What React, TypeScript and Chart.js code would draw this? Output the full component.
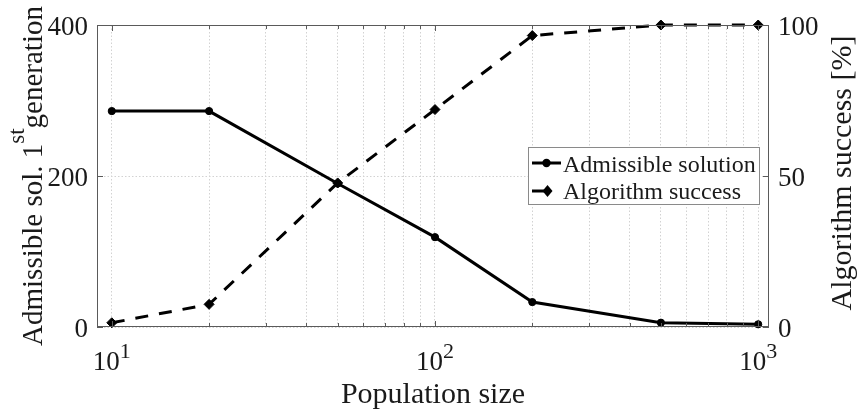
import { useEffect, useRef } from 'react';
import { Chart, registerables } from 'chart.js';

Chart.register(...registerables);

const populationSizes = [10, 20, 50, 100, 200, 500, 1000];
const admissibleSolutions = [286, 286, 190, 119, 33, 5.7, 3.6];
const algorithmSuccess = [1.4, 7.5, 47.7, 72, 96.5, 100, 100];
const xMajorTicks = [10, 100, 1000];
const xMinorTicks = [20, 30, 40, 50, 60, 70, 80, 90, 200, 300, 400, 500, 600, 700, 800, 900];
const xTickBase = '10';
const xTickExponents = ['1', '2', '3'];
const leftTicks = [0, 200, 400];
const rightTicks = [0, 50, 100];
const seriesLabels = ['Admissible solution', 'Algorithm success'];
const xTitle = 'Population size';
const leftTitleParts = ['Admissible sol. 1', 'st', 'generation'];
const rightTitle = 'Algorithm success [%]';

const SERIF = '"Liberation Serif", "Times New Roman", serif';
const TEXT = '#1a1a1a';
const AXIS = '#5a5a5a';
const GRID = '#d2d2d2';

const drawDiamond = (ctx: CanvasRenderingContext2D, cx: number, cy: number, hw: number, hh: number) => {
  ctx.beginPath();
  ctx.moveTo(cx - hw, cy);
  ctx.lineTo(cx, cy - hh);
  ctx.lineTo(cx + hw, cy);
  ctx.lineTo(cx, cy + hh);
  ctx.closePath();
  ctx.fill();
};

const decorPlugin = {
  id: 'decor',
  afterDraw(chart: any) {
    const { ctx, chartArea: a, scales } = chart;
    const sx = scales.x;
    const sy = scales.y;
    const sy1 = scales.y1;
    ctx.save();

    // box
    ctx.strokeStyle = AXIS;
    ctx.lineWidth = 1;
    ctx.setLineDash([]);
    ctx.strokeRect(a.left + 0.5, a.top + 0.5, a.right - a.left - 1, a.bottom - a.top - 1);

    // tick marks
    const tick = (x1: number, y1: number, x2: number, y2: number) => {
      ctx.beginPath();
      ctx.moveTo(x1, y1);
      ctx.lineTo(x2, y2);
      ctx.stroke();
    };
    xMajorTicks.forEach((v) => {
      const p = Math.round(sx.getPixelForValue(v)) + 0.5;
      tick(p, a.bottom, p, a.bottom - 6);
      tick(p, a.top, p, a.top + 6);
    });
    xMinorTicks.forEach((v) => {
      const p = Math.round(sx.getPixelForValue(v)) + 0.5;
      tick(p, a.bottom, p, a.bottom - 4);
      tick(p, a.top, p, a.top + 4);
    });
    leftTicks.forEach((v) => {
      const p = Math.round(sy.getPixelForValue(v)) + 0.5;
      tick(a.left, p, a.left + 6, p);
    });
    rightTicks.forEach((v) => {
      const p = Math.round(sy1.getPixelForValue(v)) + 0.5;
      tick(a.right, p, a.right - 6, p);
    });

    // tick labels
    ctx.fillStyle = TEXT;
    ctx.font = `27px ${SERIF}`;
    ctx.textBaseline = 'alphabetic';
    ctx.textAlign = 'right';
    leftTicks.forEach((v) => {
      ctx.fillText(String(v), a.left - 9, sy.getPixelForValue(v) + 10);
    });
    ctx.textAlign = 'left';
    rightTicks.forEach((v) => {
      ctx.fillText(String(v), a.right + 9, sy1.getPixelForValue(v) + 10);
    });
    xMajorTicks.forEach((v, i) => {
      ctx.font = `27px ${SERIF}`;
      const wb = ctx.measureText(xTickBase).width;
      ctx.font = `22px ${SERIF}`;
      const ws = ctx.measureText(xTickExponents[i]).width;
      const start = sx.getPixelForValue(v) - (wb + ws) / 2;
      ctx.font = `27px ${SERIF}`;
      ctx.fillText(xTickBase, start, a.bottom + 43);
      ctx.font = `22px ${SERIF}`;
      ctx.fillText(xTickExponents[i], start + wb, a.bottom + 31);
    });

    // x title
    ctx.font = `30px ${SERIF}`;
    ctx.textAlign = 'center';
    ctx.fillText(xTitle, (a.left + a.right) / 2, a.bottom + 76);

    // left title
    ctx.save();
    ctx.translate(42, (a.top + a.bottom) / 2);
    ctx.rotate(-Math.PI / 2);
    ctx.textAlign = 'left';
    ctx.font = `29px ${SERIF}`;
    const w0 = ctx.measureText(leftTitleParts[0]).width;
    const w2 = ctx.measureText(leftTitleParts[2]).width;
    ctx.font = `23px ${SERIF}`;
    const w1 = ctx.measureText(leftTitleParts[1]).width;
    let cx = -(w0 + w1 + w2) / 2;
    ctx.font = `29px ${SERIF}`;
    ctx.fillText(leftTitleParts[0], cx, 0);
    cx += w0;
    ctx.font = `23px ${SERIF}`;
    ctx.fillText(leftTitleParts[1], cx, -18);
    cx += w1;
    ctx.font = `29px ${SERIF}`;
    ctx.fillText(leftTitleParts[2], cx, 0);
    ctx.restore();

    // right title
    ctx.save();
    ctx.translate(851, 173);
    ctx.rotate(-Math.PI / 2);
    ctx.textAlign = 'center';
    ctx.font = `30px ${SERIF}`;
    ctx.fillText(rightTitle, 0, 0);
    ctx.restore();

    // legend
    const lx = 528.5;
    const ly = 147.5;
    const lw = 231;
    const lh = 57;
    ctx.fillStyle = '#ffffff';
    ctx.fillRect(lx, ly, lw, lh);
    ctx.strokeStyle = '#8a8a8a';
    ctx.lineWidth = 1;
    ctx.strokeRect(lx, ly, lw, lh);

    ctx.strokeStyle = '#000';
    ctx.fillStyle = '#000';
    ctx.lineWidth = 3;
    ctx.beginPath();
    ctx.moveTo(532, 163);
    ctx.lineTo(561, 163);
    ctx.stroke();
    ctx.beginPath();
    ctx.arc(546.5, 163, 4.2, 0, Math.PI * 2);
    ctx.fill();

    ctx.beginPath();
    ctx.moveTo(532, 191);
    ctx.lineTo(545, 191);
    ctx.stroke();
    drawDiamond(ctx, 547.5, 191, 5, 6);

    ctx.fillStyle = TEXT;
    ctx.font = `24px ${SERIF}`;
    ctx.textAlign = 'left';
    ctx.fillText(seriesLabels[0], 563, 171.5);
    ctx.fillText(seriesLabels[1], 563, 199);

    ctx.restore();
  },
};

export default function App() {
  const canvasRef = useRef<HTMLCanvasElement | null>(null);

  useEffect(() => {
    const canvas = canvasRef.current;
    if (!canvas) return;
    const allXTicks = [...xMajorTicks, ...xMinorTicks].sort((p, q) => p - q);
    const chart = new Chart(canvas, {
      type: 'line',
      data: {
        datasets: [
          {
            label: seriesLabels[0],
            data: populationSizes.map((x, i) => ({ x, y: admissibleSolutions[i] })),
            yAxisID: 'y',
            borderColor: '#000',
            backgroundColor: '#000',
            borderWidth: 3,
            pointStyle: 'circle',
            pointRadius: 3.6,
            pointBorderWidth: 1,
            pointBackgroundColor: '#000',
            pointBorderColor: '#000',
            tension: 0,
            clip: false as any,
          },
          {
            label: seriesLabels[1],
            data: populationSizes.map((x, i) => ({ x, y: algorithmSuccess[i] })),
            yAxisID: 'y1',
            borderColor: '#000',
            backgroundColor: '#000',
            borderWidth: 3,
            borderDash: [13, 11],
            pointStyle: 'rectRot',
            pointRadius: 5,
            pointBorderWidth: 1,
            pointBackgroundColor: '#000',
            pointBorderColor: '#000',
            tension: 0,
            clip: false as any,
          },
        ],
      },
      options: {
        animation: false,
        responsive: false,
        maintainAspectRatio: false,
        events: [],
        layout: { padding: { left: 97, right: 89, top: 25, bottom: 85 } },
        plugins: { legend: { display: false }, tooltip: { enabled: false } },
        scales: {
          x: {
            type: 'logarithmic',
            min: 9,
            max: 1080,
            afterBuildTicks: (s: any) => {
              s.ticks = allXTicks.map((v) => ({ value: v }));
            },
            ticks: { display: false },
            grid: { color: GRID, lineWidth: 1, drawTicks: false },
            border: { display: false, dash: [1.5, 2] },
          },
          y: {
            type: 'linear',
            position: 'left',
            min: 0,
            max: 400,
            afterBuildTicks: (s: any) => {
              s.ticks = leftTicks.map((v) => ({ value: v }));
            },
            ticks: { display: false },
            grid: { color: GRID, lineWidth: 1, drawTicks: false },
            border: { display: false, dash: [1.5, 2] },
          },
          y1: {
            type: 'linear',
            position: 'right',
            min: 0,
            max: 100,
            ticks: { display: false },
            grid: { display: false, drawTicks: false },
            border: { display: false },
          },
        },
      } as any,
      plugins: [decorPlugin],
    });
    return () => chart.destroy();
  }, []);

  return (
    <div style={{ position: 'fixed', left: 0, top: 0, width: 858, height: 412, background: '#fff' }}>
      <canvas ref={canvasRef} width={858} height={412} style={{ display: 'block', width: 858, height: 412 }} />
    </div>
  );
}
